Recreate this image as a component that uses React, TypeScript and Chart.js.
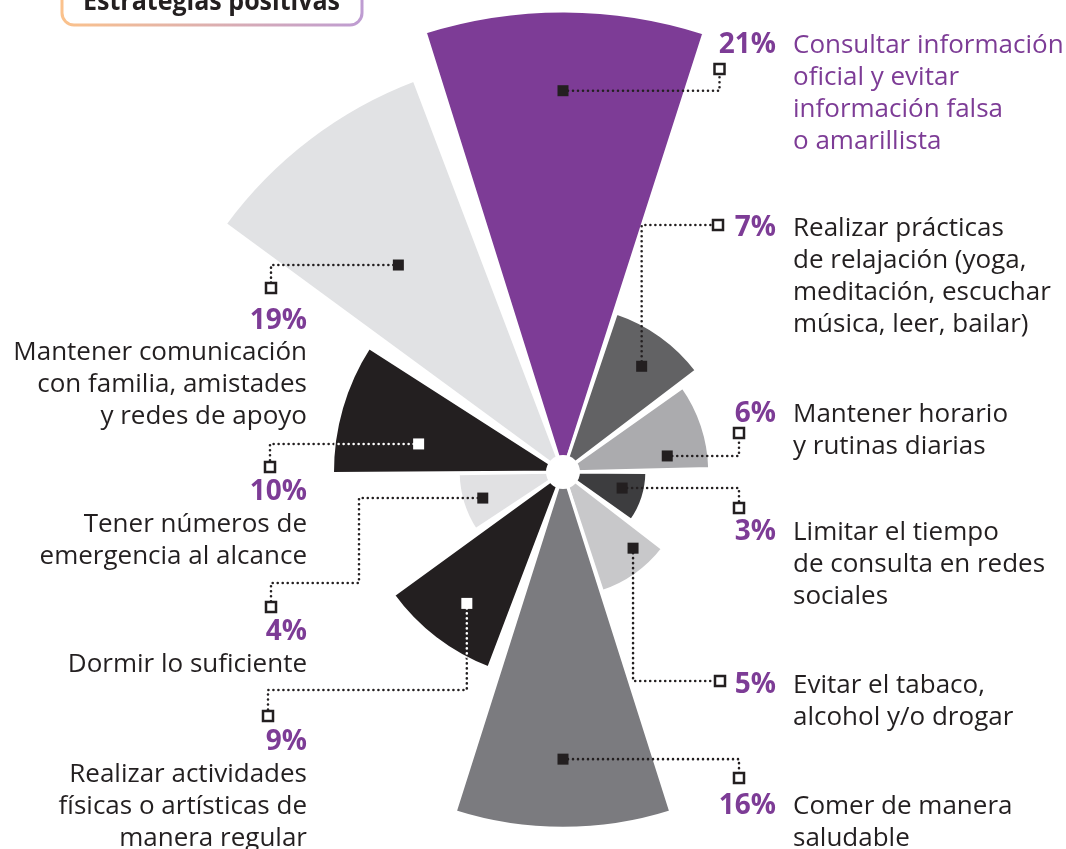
import React, { useEffect, useRef } from "react";
import { Chart, registerables } from "chart.js";

Chart.register(...registerables);

// ---------- DATA ----------
const categories = [
  "Consultar información oficial y evitar información falsa o amarillista",
  "Realizar prácticas de relajación (yoga, meditación, escuchar música, leer, bailar)",
  "Mantener horario y rutinas diarias",
  "Limitar el tiempo de consulta en redes sociales",
  "Evitar el tabaco, alcohol y/o drogar",
  "Comer de manera saludable",
  "Realizar actividades físicas o artísticas de manera regular",
  "Dormir lo suficiente",
  "Tener números de emergencia al alcance",
  "Mantener comunicación con familia, amistades y redes de apoyo",
];
const values = [21, 7, 6, 3, 5, 16, 9, 4, 10, 19];
const descriptionLines = [
  ["Consultar información", "oficial y evitar", "información falsa", "o amarillista"],
  ["Realizar prácticas", "de relajación (yoga,", "meditación, escuchar", "música, leer, bailar)"],
  ["Mantener horario", "y rutinas diarias"],
  ["Limitar el tiempo", "de consulta en redes", "sociales"],
  ["Evitar el tabaco,", "alcohol y/o drogar"],
  ["Comer de manera", "saludable"],
  ["Realizar actividades", "físicas o artísticas de", "manera regular"],
  ["Dormir lo suficiente"],
  ["Tener números de", "emergencia al alcance"],
  ["Mantener comunicación", "con familia, amistades", "y redes de apoyo"],
];
const title = "Estrategias positivas";

// ---------- STYLE ----------
const sliceColors = [
  "#7D3C96", "#626264", "#ABABAE", "#3D3D3F", "#C8C8CA",
  "#7B7B7F", "#231F20", "#E1E1E3", "#231F20", "#E1E2E4",
];
// angular extent of each wedge (degrees, clockwise from 12 o'clock)
const sliceStartDeg = [-17.4, 18.6, 54.7, 90.4, 127.7, 162.4, 200.8, 236.6, 269.6, 306.3];
const sliceEndDeg = [17.8, 52.7, 88.6, 125.3, 161.7, 197.6, 234.0, 269.1, 302.7, 339.2];

const PURPLE = "#7D3C96";
const DARK = "#231F20";
const BODY_FONT = '26px "Open Sans"';
const PCT_FONT = 'bold 28px "Open Sans"';
const TITLE_FONT = 'bold 26px "Open Sans"';

// ---------- LAYOUT (annotation placement, page pixels) ----------
type Layout = {
  side: "right" | "left";
  pctY: number;
  lineY: number[];
  descColor: string;
  anchorDeg: number;
  anchorFrac: number;
  first: "h" | "v";
  stops: number[];
  invert: boolean;
};
const layouts: Layout[] = [
  { side: "right", pctY: 53, lineY: [53, 85, 117, 149], descColor: PURPLE, anchorDeg: -0.2, anchorFrac: 0.827, first: "h", stops: [719.5, 69], invert: false },
  { side: "right", pctY: 236, lineY: [236, 268, 300, 332], descColor: DARK, anchorDeg: 1.0, anchorFrac: 0.786, first: "v", stops: [225, 718], invert: false },
  { side: "right", pctY: 422, lineY: [422, 454], descColor: DARK, anchorDeg: 9.6, anchorFrac: 0.719, first: "h", stops: [739, 433], invert: false },
  { side: "right", pctY: 540, lineY: [540, 572, 604], descColor: DARK, anchorDeg: -2.65, anchorFrac: 0.731, first: "h", stops: [739, 508], invert: false },
  { side: "right", pctY: 693, lineY: [693, 725], descColor: DARK, anchorDeg: -7.3, anchorFrac: 0.823, first: "v", stops: [681, 720], invert: false },
  { side: "right", pctY: 814, lineY: [814, 846], descColor: DARK, anchorDeg: 0, anchorFrac: 0.806, first: "h", stops: [739, 778], invert: false },
  { side: "left", pctY: 750, lineY: [782, 814, 846], descColor: DARK, anchorDeg: -1.2, anchorFrac: 0.777, first: "v", stops: [690, 268, 716], invert: true },
  { side: "left", pctY: 640, lineY: [672], descColor: DARK, anchorDeg: -0.85, anchorFrac: 0.805, first: "h", stops: [359, 583, 271, 607], invert: false },
  { side: "left", pctY: 500, lineY: [532, 564], descColor: DARK, anchorDeg: -5.15, anchorFrac: 0.638, first: "h", stops: [270, 467], invert: true },
  { side: "left", pctY: 329, lineY: [360, 392, 424], descColor: DARK, anchorDeg: -1.25, anchorFrac: 0.631, first: "h", stops: [271, 288], invert: false },
];
const RIGHT_PCT_X = 776;
const RIGHT_TEXT_X = 793;
const LEFT_X = 307;

// chart arrays: each wedge followed by a transparent spacer that forms the gap
const chartLabels: string[] = [];
const chartValues: (number | null)[] = [];
const chartColors: string[] = [];
const chartAngles: number[] = [];
const chartBorders: number[] = [];
values.forEach((v, i) => {
  const next = i + 1 < values.length ? sliceStartDeg[i + 1] : sliceStartDeg[0] + 360;
  chartLabels.push(categories[i]);
  chartValues.push(v);
  chartColors.push(sliceColors[i]);
  chartAngles.push(sliceEndDeg[i] - sliceStartDeg[i]);
  chartBorders.push(3);
  chartLabels.push("");
  chartValues.push(null);
  chartColors.push("rgba(0,0,0,0)");
  chartAngles.push(next - sliceEndDeg[i]);
  chartBorders.push(0);
});

function fitText(ctx: CanvasRenderingContext2D, text: string, x: number, y: number, k: number) {
  const w = ctx.measureText(text).width;
  ctx.fillText(text, x, y, w * k);
}

function dotted(ctx: CanvasRenderingContext2D, pts: { x: number; y: number }[], color: string) {
  ctx.save();
  ctx.strokeStyle = color;
  ctx.lineWidth = 2.6;
  ctx.lineCap = "round";
  ctx.setLineDash([0, 5]);
  ctx.beginPath();
  ctx.moveTo(pts[0].x, pts[0].y);
  for (let i = 1; i < pts.length; i++) ctx.lineTo(pts[i].x, pts[i].y);
  ctx.stroke();
  ctx.restore();
}

const labelPlugin = {
  id: "sliceLabels",
  afterDraw(chart: any) {
    const ctx: CanvasRenderingContext2D = chart.ctx;
    const meta = chart.getDatasetMeta(0);
    const first = meta.data[0];
    if (!first) return;

    ctx.save();
    ctx.fillStyle = "#ffffff";
    ctx.beginPath();
    ctx.arc(first.x, first.y, 17, 0, Math.PI * 2);
    ctx.fill();

    ctx.font = BODY_FONT;
    const kBody = Math.min(1, 272 / ctx.measureText("Consultar información").width);
    ctx.font = PCT_FONT;
    const kPct = Math.min(1, 64 / ctx.measureText("21%").width);
    ctx.font = TITLE_FONT;
    const kTitle = Math.min(1, 257 / ctx.measureText(title).width);

    values.forEach((v, i) => {
      const arc = meta.data[i * 2];
      const L = layouts[i];
      const p = arc.getProps(["x", "y", "startAngle", "endAngle", "outerRadius"], true);
      const mid = (p.startAngle + p.endAngle) / 2 + (L.anchorDeg * Math.PI) / 180;
      const ax = p.x + Math.cos(mid) * p.outerRadius * L.anchorFrac;
      const ay = p.y + Math.sin(mid) * p.outerRadius * L.anchorFrac;
      const pts = [{ x: ax, y: ay }];
      let px = ax;
      let py = ay;
      let dir = L.first;
      L.stops.forEach((s) => {
        if (dir === "h") px = s;
        else py = s;
        pts.push({ x: px, y: py });
        dir = dir === "h" ? "v" : "h";
      });
      dotted(ctx, pts, DARK);
      if (L.invert) {
        ctx.save();
        ctx.beginPath();
        ctx.moveTo(p.x, p.y);
        ctx.arc(p.x, p.y, p.outerRadius, p.startAngle, p.endAngle);
        ctx.closePath();
        ctx.clip();
        dotted(ctx, pts, "#ffffff");
        ctx.restore();
      }
      ctx.fillStyle = L.invert ? "#ffffff" : DARK;
      ctx.fillRect(ax - 5.5, ay - 5.5, 11, 11);
      const sq = pts[pts.length - 1];
      ctx.fillStyle = "#ffffff";
      ctx.fillRect(sq.x - 5.5, sq.y - 5.5, 11, 11);
      ctx.strokeStyle = DARK;
      ctx.lineWidth = 2.5;
      ctx.strokeRect(sq.x - 5, sq.y - 5, 10, 10);

      ctx.textBaseline = "alphabetic";
      const pct = v + "%";
      ctx.font = PCT_FONT;
      ctx.fillStyle = PURPLE;
      ctx.textAlign = "right";
      fitText(ctx, pct, L.side === "right" ? RIGHT_PCT_X : LEFT_X, L.pctY, kPct);
      ctx.font = BODY_FONT;
      ctx.fillStyle = L.descColor;
      ctx.textAlign = L.side === "right" ? "left" : "right";
      const tx = L.side === "right" ? RIGHT_TEXT_X : LEFT_X;
      descriptionLines[i].forEach((line, j) => fitText(ctx, line, tx, L.lineY[j], kBody));
    });

    const grad = ctx.createLinearGradient(61, 0, 363, 0);
    grad.addColorStop(0, "#FBC28C");
    grad.addColorStop(1, "#BE9CD2");
    ctx.strokeStyle = grad;
    ctx.lineWidth = 3;
    ctx.beginPath();
    (ctx as any).roundRect(62, -40, 300, 65, 12);
    ctx.stroke();
    ctx.font = TITLE_FONT;
    ctx.fillStyle = DARK;
    ctx.textAlign = "left";
    fitText(ctx, title, 83, 10, kTitle);
    ctx.restore();
  },
};

export default function App() {
  const ref = useRef<HTMLCanvasElement>(null);
  useEffect(() => {
    if (!ref.current) return;
    const chart = new Chart(ref.current, {
      type: "polarArea",
      data: {
        labels: chartLabels,
        datasets: [
          {
            data: chartValues,
            backgroundColor: chartColors,
            borderColor: "#ffffff",
            borderWidth: chartBorders,
            angle: (c: any) => chartAngles[c.dataIndex],
          } as any,
        ],
      },
      options: {
        responsive: false,
        animation: false,
        devicePixelRatio: 1,
        layout: { padding: { left: 60, right: 0, top: 12, bottom: 0 } },
        plugins: { legend: { display: false }, tooltip: { enabled: false } },
        scales: {
          r: {
            min: -1,
            max: 20.95,
            startAngle: sliceStartDeg[0],
            ticks: { display: false },
            grid: { display: false },
            angleLines: { display: false },
            pointLabels: { display: false },
          },
        },
      } as any,
      plugins: [labelPlugin],
    });
    let alive = true;
    const fonts = (document as any).fonts;
    if (fonts && fonts.ready) {
      fonts.ready.then(() => {
        if (alive) chart.update();
      });
    }
    return () => {
      alive = false;
      chart.destroy();
    };
  }, []);
  return (
    <div
      style={{
        position: "fixed",
        left: 0,
        top: 0,
        width: 1066,
        height: 849,
        overflow: "hidden",
        background: "#ffffff",
      }}
    >
      <canvas ref={ref} width={1066} height={932} style={{ display: "block", width: 1066, height: 932 }} />
    </div>
  );
}
